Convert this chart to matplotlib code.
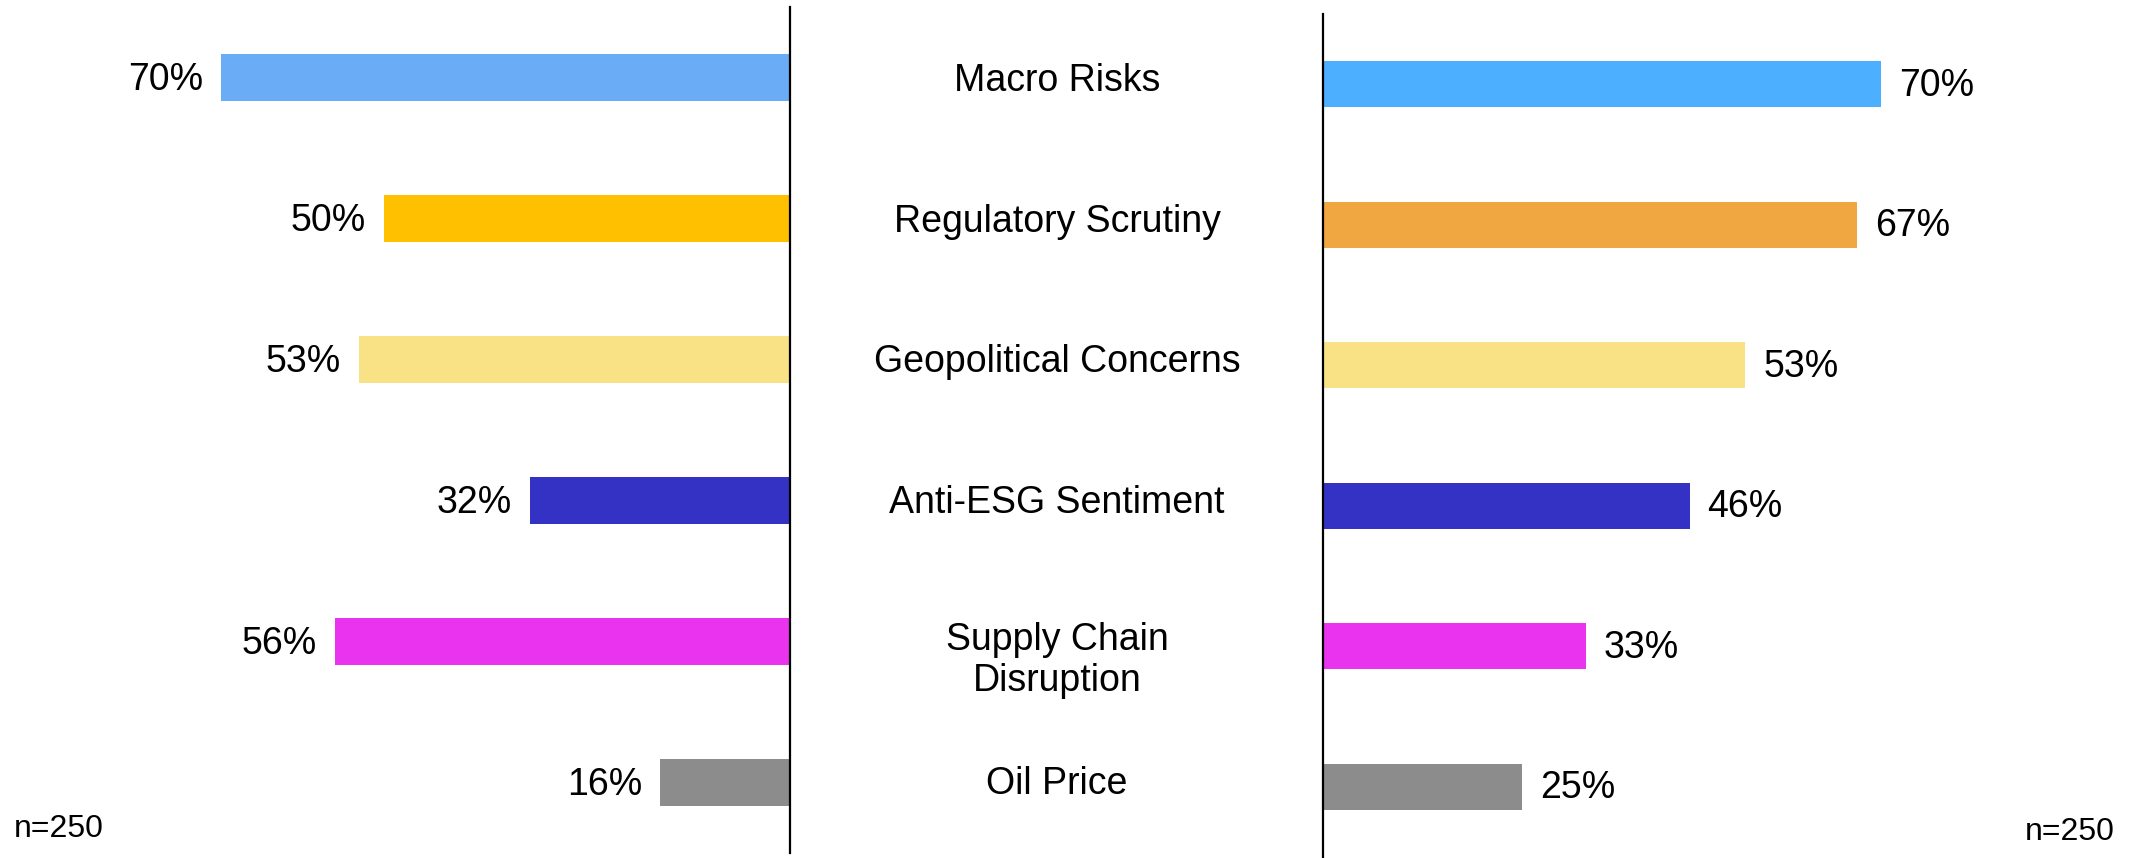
import matplotlib.pyplot as plt
import matplotlib.transforms as mtransforms

plt.rcParams['font.family'] = ['Liberation Sans', 'DejaVu Sans']

# data
categories = ['Macro Risks', 'Regulatory Scrutiny', 'Geopolitical Concerns',
              'Anti-ESG Sentiment', 'Supply Chain\nDisruption', 'Oil Price']
left_values = [70, 50, 53, 32, 56, 16]
right_values = [70, 67, 53, 46, 33, 25]
left_colors = ['#6aacf5', '#ffc000', '#f9e286', '#3432c5', '#ea33ee', '#8c8c8c']
right_colors = ['#4cafff', '#f0a742', '#f9e286', '#3432c5', '#ea33ee', '#8c8c8c']
sample_note = 'n=250'

W, H = 2139, 858
fig = plt.figure(figsize=(W / 100, H / 100), dpi=100)

# left panel: bars grow leftwards from the centre line
ax_l = fig.add_axes([0, 5 / H, 790 / W, 846 / H])
# right panel: bars grow rightwards
ax_r = fig.add_axes([1323 / W, 1 / H, (W - 1323) / W, 843 / H])

y = list(range(len(categories)))

ax_l.barh(y, left_values, height=0.33, color=left_colors)
ax_l.set_xlim(97.2, 0)
ax_r.barh(y, right_values, height=0.33, color=right_colors)
ax_r.set_xlim(0, 102.4)

for ax in (ax_l, ax_r):
    ax.set_ylim(5.5, -0.5)
    ax.set_xticks([])
    ax.set_yticks([])
    for s in ('top', 'bottom', 'left', 'right'):
        ax.spines[s].set_visible(False)

ax_l.spines['right'].set_visible(True)
ax_l.spines['right'].set_linewidth(1.6)
ax_r.spines['left'].set_visible(True)
ax_r.spines['left'].set_linewidth(1.6)

# value labels
for i, v in enumerate(left_values):
    ax_l.annotate(f'{v}%', (v, i), xytext=(-13, -2), textcoords='offset points',
                  ha='right', va='center', fontsize=27)
for i, v in enumerate(right_values):
    ax_r.annotate(f'{v}%', (v, i), xytext=(13, -1), textcoords='offset points',
                  ha='left', va='center', fontsize=27)

# category labels in the middle
trans = mtransforms.blended_transform_factory(fig.transFigure, ax_r.transData)
for i, cat in enumerate(categories):
    dy = 0.1 if '\n' in cat else -0.02
    ax_r.text(1057 / W, i + dy, cat, transform=trans, ha='center', va='center',
              fontsize=27, linespacing=1.2, clip_on=False)

fig.text(14 / W, 29 / H, sample_note, ha='left', va='center', fontsize=23)
fig.text(2115 / W, 26 / H, sample_note, ha='right', va='center', fontsize=23)

fig.savefig('out.png', dpi=100)
